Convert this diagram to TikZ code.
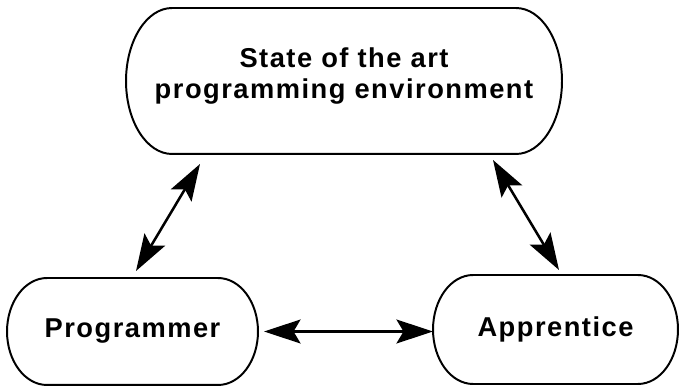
\documentclass[tikz,border=0pt]{standalone}
\usepackage{fontspec}
\setmainfont{Liberation Sans}[LetterSpace=5.5]
\usetikzlibrary{arrows.meta,calc}

% outline of a box with round ends, #1 node name, #2 depth of the ends
\newcommand\drawpill[2]{%
\draw ([xshift=#2]#1.north west) -- ([xshift=-#2]#1.north east)
 .. controls ([xshift=-0.448*#2]#1.north east) and ($(#1.east)!0.552!(#1.north east)$) .. (#1.east)
 .. controls ($(#1.east)!0.552!(#1.south east)$) and ([xshift=-0.448*#2]#1.south east) .. ([xshift=-#2]#1.south east)
 -- ([xshift=#2]#1.south west)
 .. controls ([xshift=0.448*#2]#1.south west) and ($(#1.west)!0.552!(#1.south west)$) .. (#1.west)
 .. controls ($(#1.west)!0.552!(#1.north west)$) and ([xshift=0.448*#2]#1.north west) .. ([xshift=#2]#1.north west) -- cycle;}

\begin{document}
\begin{tikzpicture}[line width=1.4pt,
  pill/.style={align=center, inner sep=0pt, font=\bfseries\fontsize{19.4}{22}\selectfont},
  link/.style={line width=1.8pt, {Stealth[length=26pt,width=17pt,inset=5pt]}-{Stealth[length=26pt,width=17pt,inset=5pt]}}]
\useasboundingbox (0,0) rectangle (16.975,9.7);
\node[pill, minimum width=10.85cm, minimum height=3.6cm] (state) at (8.6,7.675) {State of the art\\programming environment\rule[-0.39cm]{0pt}{0pt}};
\node[pill, minimum width=6.225cm, minimum height=2.625cm] (prog) at (3.3125,1.4125) {Programmer};
\node[pill, minimum width=6.075cm, minimum height=2.675cm] (app) at (13.8875,1.4625) {Apprentice};
\foreach \n/\r in {state/1.15cm, prog/1cm, app/1cm} \drawpill{\n}{\r};
\draw[link] ([xshift=-3.6cm,yshift=-0.25cm]state.south) -- ([xshift=0.0875cm,yshift=0.175cm]prog.north);
\draw[link] ([xshift=3.725cm,yshift=-0.15cm]state.south) -- ([xshift=0.0875cm,yshift=0.125cm]app.north);
\draw[link] ([xshift=0.15cm]prog.east) -- (app.west |- prog.east);
\end{tikzpicture}
\end{document}
